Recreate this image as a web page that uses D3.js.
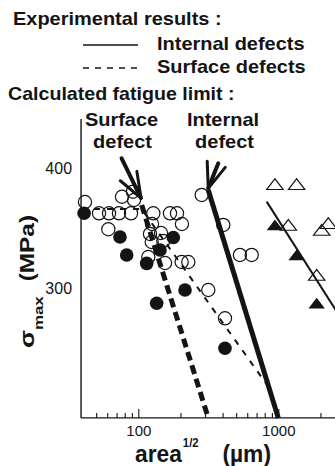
<!DOCTYPE html>
<html><head><meta charset="utf-8">
<script src="https://cdn.jsdelivr.net/npm/d3@7"></script>
<style>
html,body{margin:0;padding:0;background:#fff;}
svg{display:block;font-family:"Liberation Sans",Arial,Helvetica,sans-serif;}
</style></head>
<body><svg id="c" width="335" height="466"></svg>
<script>
// ---- data (area^1/2 in µm, sigma_max in MPa) ----
const openCircleX = [41.6,76.5,91.6,93.2,52.4,61.8,72.8,88.7,61.1,128,168.4,189,125.3,205,121.2,145.3,124.7,150.9,117.9,155.2,204,227.6,316.2,416,532,645.6,404.6,283.7];
const openCircleY = [371.9,376.3,380.5,373.6,362.5,362.5,362.5,362.5,349.2,362.5,362.5,362.5,353.6,353.6,345.3,346.1,338.6,339.4,326.1,321.1,321.9,321.9,298.6,275,327.8,327.8,352.8,377.8];
const filledCircleX = [41,74,82.6,177.8,142.9,114.8,215.6,135.3,416];
const filledCircleY = [362.5,342.7,327.8,342.3,331.9,320.8,298.6,287.5,250];
const openTriX = [946,1352,1179,2042,2275,1880];
const openTriY = [385.3,385.3,351.3,347.2,352.8,309.7];
const filledTriX = [946,1352,1880];
const filledTriY = [351.3,326.3,286.1];
// experimental fatigue-limit lines
const expInternalX = [826,2600];
const expInternalY = [372.2,281];
const expSurfaceX = [39,105.7,849];
const expSurfaceY = [366,366,218];
// calculated fatigue-limit lines
const calcSurfaceX = [105.7,316];
const calcSurfaceY = [369.4,192];
const calcInternalX = [316,1000];
const calcInternalY = [381.9,192];
// arrows: tail -> tip
const arrowSurface = [[76,408.3],[104.6,375.2]];
const arrowInternal = [[372.7,404.2],[316,383.3]];
// axes
const xMajorTicks = [100,1000];
const xMinorTicks = [50,60,70,80,90,200,300,400,500,600,700,800,900,2000,3000];
const yTickValues = [300,400];
const xDomain = [39,3000];
const yDomain = [192,441];

const ink = "#141414";
const svg = d3.select("#c");
svg.append("rect").attr("width",335).attr("height",466).attr("fill","#fff");

const x = d3.scaleLog().domain([100,1000]).range([138.3,278.3]);
const y = d3.scaleLinear().domain([300,400]).range([288.3,168.3]);

// stretched text helper
function stxt(parent, str, px, py, size, sx, weight, anchor){
  const g = parent.append("g").attr("transform",`translate(${px},${py}) scale(${sx},1)`);
  return g.append("text").text(str).attr("font-size",size).attr("font-weight",weight||"bold")
    .attr("fill",ink).attr("text-anchor",anchor||"start");
}

// header texts
stxt(svg,"Experimental results :",13,25,18,1.11);
stxt(svg,"Internal defects",157,50,18,1.11);
stxt(svg,"Surface defects",157,73,18,1.11);
stxt(svg,"Calculated fatigue limit :",8,100,18,1.09);
svg.append("line").attr("x1",83).attr("x2",138).attr("y1",45).attr("y2",45).attr("stroke",ink).attr("stroke-width",1.6);
svg.append("line").attr("x1",83).attr("x2",140).attr("y1",68).attr("y2",68).attr("stroke",ink).attr("stroke-width",1.6).attr("stroke-dasharray","6,6");

// annotations
stxt(svg,"Surface",121.5,126,18,1.11,"bold","middle");
stxt(svg,"defect",122.5,148,18,1.11,"bold","middle");
stxt(svg,"Internal",223,126,18,1.11,"bold","middle");
stxt(svg,"defect",224.5,148,18,1.11,"bold","middle");

// axes lines
svg.append("line").attr("x1",x(xDomain[0])).attr("x2",x(xDomain[0]))
  .attr("y1",y(yDomain[1])).attr("y2",y(yDomain[0])).attr("stroke",ink).attr("stroke-width",1.4);
svg.append("line").attr("x1",x(xDomain[0])).attr("x2",x(xDomain[1]))
  .attr("y1",y(yDomain[0])).attr("y2",y(yDomain[0])).attr("stroke",ink).attr("stroke-width",1.4);

// x axis ticks
const xAxisG = svg.append("g").attr("transform",`translate(0,${y(yDomain[0])})`)
  .call(d3.axisBottom(x).tickValues(xMajorTicks.concat(xMinorTicks)).tickSize(-5).tickPadding(7)
    .tickFormat(d => xMajorTicks.includes(d) ? d3.format("d")(d) : ""));
xAxisG.select(".domain").remove();
xAxisG.selectAll(".tick line").attr("stroke",ink).attr("stroke-width",1.1)
  .attr("y2",d => xMajorTicks.includes(d) ? -9 : -5);
xAxisG.selectAll(".tick text").attr("font-size",15).attr("fill",ink).attr("font-family",null);

// y axis labels
const yAxisG = svg.append("g").attr("transform",`translate(${x(xDomain[0])},0)`)
  .call(d3.axisLeft(y).tickValues(yTickValues).tickSize(0).tickPadding(9).tickFormat(d3.format("d")));
yAxisG.select(".domain").remove();
yAxisG.selectAll(".tick text").attr("font-size",16).attr("fill",ink).attr("font-family",null);

// y label
const yl = svg.append("g").attr("transform","translate(33.5,348) rotate(-90) scale(1.25,1)")
  .append("text").attr("fill",ink).attr("font-weight","bold");
yl.append("tspan").text("σ").attr("font-size",21);
yl.append("tspan").text("max").attr("font-size",13.5).attr("dy",9);
yl.append("tspan").text("(MPa)").attr("font-size",19.5).attr("dy",-9).attr("dx",12);

// x label
const xl = svg.append("g").attr("transform","translate(135,461.5) scale(0.95,1)")
  .append("text").attr("fill",ink).attr("font-weight","bold");
xl.append("tspan").text("area").attr("font-size",24);
xl.append("tspan").text("1/2").attr("font-size",12).attr("dy",-15).attr("dx",1);
xl.append("tspan").text("(µm)").attr("font-size",24).attr("dy",15).attr("dx",25);

// markers
const plot = svg.append("g");
plot.selectAll("circle.o").data(d3.zip(openCircleX,openCircleY)).join("circle")
  .attr("cx",d=>x(d[0])).attr("cy",d=>y(d[1])).attr("r",6.6)
  .attr("fill","none").attr("stroke",ink).attr("stroke-width",1.2);
plot.selectAll("circle.f").data(d3.zip(filledCircleX,filledCircleY)).join("circle")
  .attr("cx",d=>x(d[0])).attr("cy",d=>y(d[1])).attr("r",6.8).attr("fill",ink);
const tri = d3.symbol().type(d3.symbolTriangle).size(75);
plot.selectAll("path.to").data(d3.zip(openTriX,openTriY)).join("path")
  .attr("d",tri).attr("transform",d=>`translate(${x(d[0])},${y(d[1])}) scale(1.25,0.95)`)
  .attr("fill","none").attr("stroke",ink).attr("stroke-width",1.1);
plot.selectAll("path.tf").data(d3.zip(filledTriX,filledTriY)).join("path")
  .attr("d",tri).attr("transform",d=>`translate(${x(d[0])},${y(d[1])}) scale(1.25,0.95)`)
  .attr("fill",ink);

// lines
const lineGen = d3.line().x(d=>x(d[0])).y(d=>y(d[1]));
function drawLine(xs,ys,w,dash){
  svg.append("path").attr("d",lineGen(d3.zip(xs,ys))).attr("fill","none")
    .attr("stroke",ink).attr("stroke-width",w).attr("stroke-dasharray",dash||null);
}
drawLine(expInternalX,expInternalY,2);
drawLine(expSurfaceX,expSurfaceY,2,"6,7");
drawLine(calcSurfaceX,calcSurfaceY,5,"9,5");
drawLine(calcInternalX,calcInternalY,5);

// arrows
function arrow(a){
  const t = [x(a[0][0]),y(a[0][1])], p = [x(a[1][0]),y(a[1][1])];
  const ang = Math.atan2(t[1]-p[1],t[0]-p[0]);
  svg.append("line").attr("x1",t[0]).attr("y1",t[1]).attr("x2",p[0]).attr("y2",p[1])
    .attr("stroke",ink).attr("stroke-width",4).attr("stroke-linecap","round");
  [-0.42,0.3].forEach(da=>{
    const L = 27;
    svg.append("line").attr("x1",p[0]).attr("y1",p[1])
      .attr("x2",p[0]+L*Math.cos(ang+da)).attr("y2",p[1]+L*Math.sin(ang+da))
      .attr("stroke",ink).attr("stroke-width",3).attr("stroke-linecap","round");
  });
}
arrow(arrowSurface);
arrow(arrowInternal);
</script></body></html>
